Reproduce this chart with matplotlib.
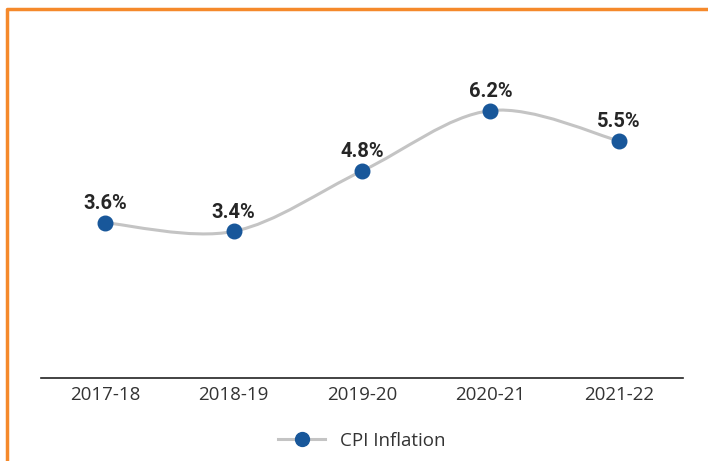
import numpy as np
import matplotlib.pyplot as plt
from matplotlib.path import Path
from matplotlib.patches import PathPatch
from matplotlib.lines import Line2D

# Data
years = ["2017-18", "2018-19", "2019-20", "2020-21", "2021-22"]
cpi = [3.6, 3.4, 4.8, 6.2, 5.5]

plt.rcParams['font.family'] = ['Open Sans', 'DejaVu Sans']

fig = plt.figure(figsize=(7.08, 4.61), dpi=100)
ax = fig.add_axes([41 / 708, 83 / 461, 642 / 708, 345 / 461])

x = np.arange(len(years))
y = np.array(cpi)

# smooth line as Catmull-Rom bezier segments
verts = [(x[0], y[0])]
codes = [Path.MOVETO]
t = 0.5 / 3
for i in range(len(x) - 1):
    p0 = (x[max(i - 1, 0)], y[max(i - 1, 0)])
    p1 = (x[i], y[i])
    p2 = (x[i + 1], y[i + 1])
    p3 = (x[min(i + 2, len(x) - 1)], y[min(i + 2, len(x) - 1)])
    c1 = (p1[0] + (p2[0] - p0[0]) * t, p1[1] + (p2[1] - p0[1]) * t)
    c2 = (p2[0] - (p3[0] - p1[0]) * t, p2[1] - (p3[1] - p1[1]) * t)
    verts += [c1, c2, p2]
    codes += [Path.CURVE4] * 3
ax.add_patch(PathPatch(Path(verts, codes), facecolor="none",
                       edgecolor="#c4c4c4", lw=2.2, zorder=2))

ax.scatter(x, y, s=110, color="#18579a", zorder=3)
for xi, yi in zip(x, y):
    ax.annotate(f"{yi:.1f}%", (xi, yi), xytext=(0, 7), textcoords="offset points",
                ha="center", va="bottom", fontsize=14.5, fontweight="bold",
                color="#262626", family=["Roboto", "DejaVu Sans"])

ax.set_xlim(-0.5, 4.5)
ax.set_ylim(0, 8)
ax.set_xticks(x)
ax.set_xticklabels(years, fontsize=13.5, color="#333333")
ax.tick_params(axis="x", length=0, pad=6)
ax.set_yticks([])
for s in ["top", "right", "left"]:
    ax.spines[s].set_visible(False)
ax.spines["bottom"].set_color("#222222")
ax.spines["bottom"].set_linewidth(1.2)

handle = Line2D([], [], color="#c4c4c4", lw=2.2, marker="o", markersize=10,
                markerfacecolor="#18579a", markeredgecolor="#18579a")
fig.legend([handle], ["CPI Inflation"], loc="center", bbox_to_anchor=(362 / 708, 1 - 441 / 461),
           frameon=False, fontsize=13.5, handlelength=2.5, labelcolor="#333333")

# orange frame (top and left edges)
fig.add_artist(Line2D([6.5 / 708, 6.5 / 708, 1.0], [0, 1 - 9.5 / 461, 1 - 9.5 / 461],
                      transform=fig.transFigure, color="#f5892b", lw=2.5))

fig.savefig("out.png", dpi=100)
